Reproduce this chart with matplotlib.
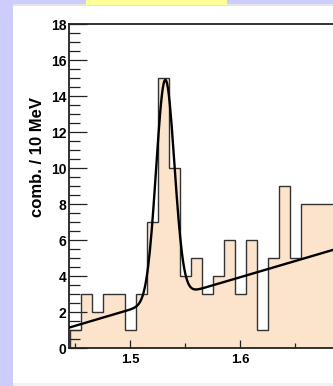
import numpy as np
import matplotlib
matplotlib.use("Agg")
import matplotlib.pyplot as plt
from matplotlib.patches import Rectangle

# invariant mass bins, 10 MeV wide (GeV)
bin_lo = 1.445
bin_width = 0.01
counts = [1, 3, 2, 3, 3, 1, 3, 7, 15, 10,
          4, 5, 3, 4, 6, 3, 6, 1, 5, 9,
          5, 8, 8, 8, 7]

# gaussian + linear background fit result
fit_mean = 1.532
fit_sigma = 0.0083
fit_amp = 12.2
fit_p0 = 3.3      # background at fit_x0
fit_p1 = 18.0     # slope per GeV
fit_x0 = 1.565

y_ticks = [0, 2, 4, 6, 8, 10, 12, 14, 16, 18]
x_ticks = [1.5, 1.6]
x_labels = ["1.5", "1.6"]

W, H = 333, 386
fig = plt.figure(figsize=(W / 100, H / 100), dpi=100)
fig.patch.set_facecolor("#ccccff")

def px_rect(x0, y0, x1, y1, color):
    # rectangle given in pixel coords, origin top-left
    fig.patches.append(Rectangle((x0 / W, 1 - y1 / H), (x1 - x0) / W, (y1 - y0) / H,
                                 transform=fig.transFigure, facecolor=color,
                                 edgecolor="none", zorder=-5))

px_rect(13, 5, W, H, "white")
px_rect(13, 4.5, W, 6, "#e4e4e4")
px_rect(13, 383, W, H, "#f2f2f2")
px_rect(86, 0, 227, 5, "#ffff99")

xmin, xmax = 1.4445, 1.76
ax_left, ax_top, ax_bottom = 69, 24, 348
ax_w = (xmax - xmin) * 1100
ax = fig.add_axes([ax_left / W, 1 - ax_bottom / H, ax_w / W, (ax_bottom - ax_top) / H])
ax.patch.set_alpha(0)

edges = bin_lo + bin_width * np.arange(len(counts) + 1)
ax.stairs(counts, edges, fill=True, color="#fbe3cc", zorder=1)
ax.stairs(counts, edges, color="#333333", linewidth=1.0, zorder=2)

xf = np.linspace(xmin + 0.001, xmax, 400)
yf = fit_p0 + fit_p1 * (xf - fit_x0) + fit_amp * np.exp(-0.5 * ((xf - fit_mean) / fit_sigma) ** 2)
ax.plot(xf, yf, color="black", linewidth=1.7, zorder=3)

ax.set_xlim(xmin, xmax)
ax.set_ylim(0, 18)
ax.set_yticks(y_ticks)
ax.set_yticks(np.arange(0, 18.01, 0.5), minor=True)
ax.set_xticks(x_ticks)
ax.set_xticklabels(x_labels)
ax.set_xticks([1.45, 1.55, 1.65], minor=True)

for s in ["left", "bottom", "top"]:
    ax.spines[s].set_linewidth(1.3)
    ax.spines[s].set_color("#222222")
ax.spines["right"].set_visible(False)

ax.tick_params(axis="y", which="major", direction="in", length=13, width=0.9,
               color="#222222", pad=2)
ax.tick_params(axis="y", which="minor", direction="in", length=8, width=0.9,
               color="#222222")
ax.tick_params(axis="x", which="major", direction="in", length=6, width=0.9,
               color="#222222", pad=4.5)
ax.tick_params(axis="x", which="minor", direction="in", length=3.5, width=0.9,
               color="#222222")
for lab in ax.get_yticklabels():
    lab.set_fontfamily("Liberation Sans")
    lab.set_fontweight("bold")
    lab.set_fontsize(10)
for lab in ax.get_xticklabels():
    lab.set_fontfamily("Liberation Sans")
    lab.set_fontweight("bold")
    lab.set_fontsize(9.5)

fig.text(38 / W, 1 - 97 / H, "comb. / 10 MeV", rotation=90, ha="center", va="top",
         fontfamily="Liberation Sans", fontweight="bold", fontsize=12)

fig.savefig("out.png", dpi=100)
